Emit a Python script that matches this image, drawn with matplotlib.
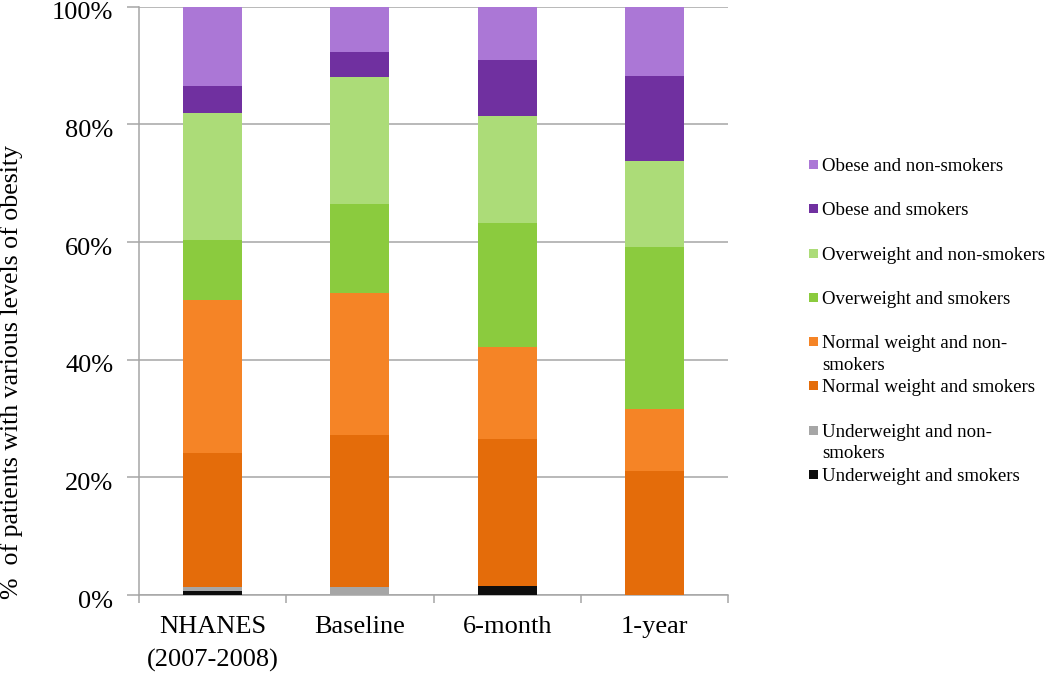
import numpy as np
import matplotlib
matplotlib.use('Agg')
import matplotlib.pyplot as plt
import matplotlib.transforms as mtransforms
from matplotlib.patches import Rectangle

# categories on the x axis
categories = ['NHANES\n(2007-2008)', 'Baseline', '6-month', '1-year']

# series, listed bottom of the stack to top (percent of patients)
series_names = [
    'Underweight and smokers',
    'Underweight and non-\nsmokers',
    'Normal weight and smokers',
    'Normal weight and non-\nsmokers',
    'Overweight and smokers',
    'Overweight and non-smokers',
    'Obese and smokers',
    'Obese and non-smokers',
]
uw_smokers = [0.7, 0.0, 1.5, 0.0]
uw_non_smokers = [0.7, 1.4, 0.0, 0.0]
nw_smokers = [22.8, 25.8, 25.0, 21.1]
nw_non_smokers = [25.9, 24.2, 15.7, 10.5]
ow_smokers = [10.2, 15.1, 21.1, 27.6]
ow_non_smokers = [21.6, 21.5, 18.2, 14.5]
ob_smokers = [4.6, 4.3, 9.4, 14.5]
ob_non_smokers = [13.5, 7.7, 9.1, 11.8]

series_values = [uw_smokers, uw_non_smokers, nw_smokers, nw_non_smokers,
                 ow_smokers, ow_non_smokers, ob_smokers, ob_non_smokers]
series_colors = ['#0D0D0D', '#A6A6A6', '#E46C0A', '#F58426',
                 '#8BCB3E', '#ACDC78', '#7030A0', '#AB77D6']

yticks = [0, 20, 40, 60, 80, 100]
ytick_labels = ['0%', '20%', '40%', '60%', '80%', '100%']

plt.rcParams['font.family'] = ['Liberation Serif', 'DejaVu Serif']

W, H = 1050, 679
fig = plt.figure(figsize=(10.5, 6.79), dpi=100)
ax = fig.add_axes([139 / W, 1 - 595 / H, 589 / W, 588.3 / H])

x = np.arange(len(categories))
bottom = np.zeros(len(categories))
for vals, col in zip(series_values, series_colors):
    vals = np.array(vals)
    ax.bar(x, vals, width=0.4, bottom=bottom, color=col, linewidth=0, zorder=3)
    bottom += vals

gray = '#A6A6A6'
ax.set_xlim(-0.5, len(categories) - 0.5)
ax.set_ylim(0, 100)
ax.set_yticks(yticks)
ax.set_yticklabels(ytick_labels, fontsize=19)
ax.yaxis.grid(True, color=gray, linewidth=1.1, zorder=0)
ax.tick_params(axis='y', length=8.5, width=1.1, color=gray, pad=10)
# tick labels sit a little below their gridlines in the original
shift = mtransforms.ScaledTranslation(0, -4 / 100, fig.dpi_scale_trans)
for lbl in ax.get_yticklabels():
    lbl.set_transform(lbl.get_transform() + shift)

ax.set_xticks(x)
ax.set_xticklabels(categories, fontsize=19, linespacing=1.6)
ax.set_xticks(np.arange(-0.5, len(categories)), minor=True)
ax.tick_params(axis='x', which='major', length=0, pad=15)
ax.tick_params(axis='x', which='minor', length=5.5, width=1.1, color=gray)

for s in ['top', 'right']:
    ax.spines[s].set_visible(False)
for s in ['left', 'bottom']:
    ax.spines[s].set_color(gray)
    ax.spines[s].set_linewidth(1.1)

fig.text(12 / W, 1 - 372 / H, '%  of patients with various levels of obesity',
         fontsize=18.6, rotation=90, ha='center', va='center')

# legend drawn by hand: top entry is the top of the stack
for i, (name, col) in enumerate(zip(series_names[::-1], series_colors[::-1])):
    yc = 165 + i * 44.3
    fig.patches.append(Rectangle((809 / W, 1 - (yc + 4) / H), 9 / W, 9 / H,
                                 transform=fig.transFigure, facecolor=col,
                                 edgecolor='none'))
    fig.text(822 / W, 1 - (yc - 7) / H, name, fontsize=13.6, ha='left', va='top',
             linespacing=1.35)

fig.savefig('out.png', dpi=100)
